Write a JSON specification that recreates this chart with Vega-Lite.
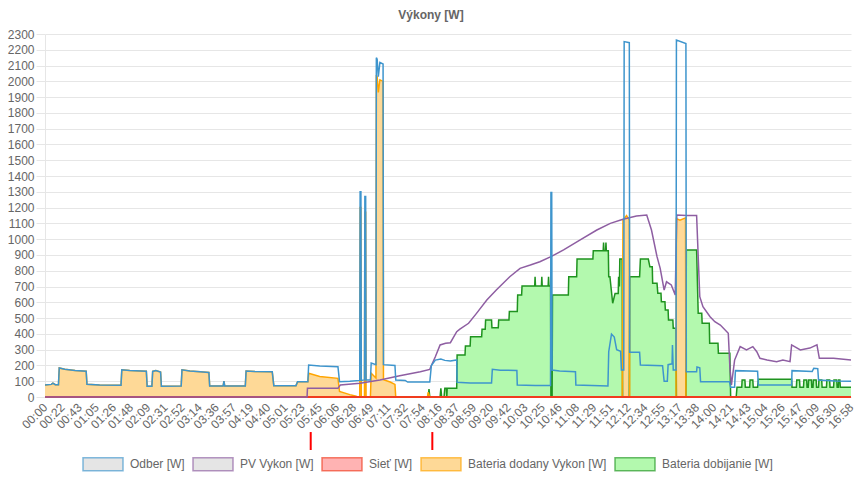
{
"$schema":"https://vega.github.io/schema/vega-lite/v6.json",
"width":806,"height":363,
"autosize":{"type":"none"},
"padding":{"left":45,"top":34,"right":11,"bottom":94},
"background":"white",
"title":{"text":"Výkony [W]","frame":"group","anchor":"middle","offset":13,"dx":-17,"dy":16,"baseline":"alphabetic","font":"Liberation Sans","fontSize":12,"fontWeight":"bold","color":"#666"},
"config":{"view":{"stroke":null},"font":"Liberation Sans"},
"datasets":{
"d":[
{"s":"Odber [W]","t":0,"v":76},{"s":"Odber [W]","t":8,"v":80},{"s":"Odber [W]","t":10,"v":88},{"s":"Odber [W]","t":13,"v":78},{"s":"Odber [W]","t":17,"v":78},{"s":"Odber [W]","t":18,"v":184},{"s":"Odber [W]","t":25,"v":176},{"s":"Odber [W]","t":38,"v":168},{"s":"Odber [W]","t":52,"v":163},{"s":"Odber [W]","t":53,"v":80},{"s":"Odber [W]","t":69,"v":76},{"s":"Odber [W]","t":96,"v":74},{"s":"Odber [W]","t":97,"v":172},{"s":"Odber [W]","t":107,"v":168},{"s":"Odber [W]","t":128,"v":163},{"s":"Odber [W]","t":129,"v":68},{"s":"Odber [W]","t":135,"v":68},{"s":"Odber [W]","t":136,"v":162},{"s":"Odber [W]","t":140,"v":168},{"s":"Odber [W]","t":146,"v":158},{"s":"Odber [W]","t":147,"v":68},{"s":"Odber [W]","t":172,"v":70},{"s":"Odber [W]","t":173,"v":172},{"s":"Odber [W]","t":183,"v":165},{"s":"Odber [W]","t":196,"v":160},{"s":"Odber [W]","t":207,"v":155},{"s":"Odber [W]","t":208,"v":70},{"s":"Odber [W]","t":225,"v":70},{"s":"Odber [W]","t":226,"v":100},{"s":"Odber [W]","t":227,"v":70},{"s":"Odber [W]","t":253,"v":70},{"s":"Odber [W]","t":254,"v":165},{"s":"Odber [W]","t":265,"v":162},{"s":"Odber [W]","t":287,"v":160},{"s":"Odber [W]","t":289,"v":72},{"s":"Odber [W]","t":317,"v":72},{"s":"Odber [W]","t":319,"v":97},{"s":"Odber [W]","t":332,"v":97},
{"s":"Odber [W]","t":333,"v":203},{"s":"Odber [W]","t":347,"v":196},{"s":"Odber [W]","t":370,"v":192},{"s":"Odber [W]","t":372,"v":97},{"s":"Odber [W]","t":385,"v":100},{"s":"Odber [W]","t":397.5,"v":105},{"s":"Odber [W]","t":398,"v":1300},{"s":"Odber [W]","t":399,"v":1300},{"s":"Odber [W]","t":399.5,"v":105},{"s":"Odber [W]","t":403.5,"v":108},{"s":"Odber [W]","t":404,"v":1270},{"s":"Odber [W]","t":405,"v":1270},{"s":"Odber [W]","t":405.5,"v":108},{"s":"Odber [W]","t":411,"v":108},{"s":"Odber [W]","t":412,"v":215},{"s":"Odber [W]","t":418,"v":205},{"s":"Odber [W]","t":418.5,"v":2150},{"s":"Odber [W]","t":419.5,"v":2140},{"s":"Odber [W]","t":421,"v":2030},{"s":"Odber [W]","t":423,"v":2120},{"s":"Odber [W]","t":427,"v":2110},{"s":"Odber [W]","t":427.5,"v":205},{"s":"Odber [W]","t":442,"v":200},{"s":"Odber [W]","t":443,"v":108},{"s":"Odber [W]","t":455,"v":105},{"s":"Odber [W]","t":458,"v":95},{"s":"Odber [W]","t":486,"v":95},{"s":"Odber [W]","t":488,"v":200},{"s":"Odber [W]","t":493,"v":234},{"s":"Odber [W]","t":500,"v":240},{"s":"Odber [W]","t":505,"v":232},{"s":"Odber [W]","t":512,"v":228},{"s":"Odber [W]","t":520,"v":235},{"s":"Odber [W]","t":520.5,"v":93},{"s":"Odber [W]","t":537,"v":88},{"s":"Odber [W]","t":564,"v":88},{"s":"Odber [W]","t":565,"v":176},{"s":"Odber [W]","t":575,"v":170},{"s":"Odber [W]","t":596,"v":168},{"s":"Odber [W]","t":596.5,"v":76},{"s":"Odber [W]","t":619,"v":73},{"s":"Odber [W]","t":638.5,"v":73},{"s":"Odber [W]","t":639,"v":1295},{"s":"Odber [W]","t":640,"v":1295},{"s":"Odber [W]","t":640.5,"v":171},{"s":"Odber [W]","t":650,"v":165},{"s":"Odber [W]","t":670,"v":160},{"s":"Odber [W]","t":670.5,"v":76},{"s":"Odber [W]","t":711,"v":70},{"s":"Odber [W]","t":712,"v":287},{"s":"Odber [W]","t":715.5,"v":399},{"s":"Odber [W]","t":719,"v":380},{"s":"Odber [W]","t":722,"v":300},{"s":"Odber [W]","t":727,"v":290},{"s":"Odber [W]","t":728,"v":171},{"s":"Odber [W]","t":731,"v":171},{"s":"Odber [W]","t":731.5,"v":2252},{"s":"Odber [W]","t":738,"v":2245},{"s":"Odber [W]","t":738.5,"v":283},{"s":"Odber [W]","t":751,"v":283},{"s":"Odber [W]","t":752,"v":203},{"s":"Odber [W]","t":780,"v":198},{"s":"Odber [W]","t":782,"v":100},{"s":"Odber [W]","t":786,"v":100},{"s":"Odber [W]","t":787,"v":205},{"s":"Odber [W]","t":792,"v":210},{"s":"Odber [W]","t":792.5,"v":330},{"s":"Odber [W]","t":793.5,"v":171},{"s":"Odber [W]","t":797,"v":171},{"s":"Odber [W]","t":797.5,"v":2262},{"s":"Odber [W]","t":809.5,"v":2240},{"s":"Odber [W]","t":810,"v":160},{"s":"Odber [W]","t":823,"v":160},{"s":"Odber [W]","t":823.5,"v":190},{"s":"Odber [W]","t":827,"v":185},{"s":"Odber [W]","t":828,"v":97},{"s":"Odber [W]","t":864.5,"v":97},{"s":"Odber [W]","t":866,"v":61},{"s":"Odber [W]","t":871,"v":61},{"s":"Odber [W]","t":872,"v":167},{"s":"Odber [W]","t":900,"v":163},{"s":"Odber [W]","t":901,"v":76},{"s":"Odber [W]","t":943,"v":76},{"s":"Odber [W]","t":943.5,"v":167},{"s":"Odber [W]","t":969,"v":162},{"s":"Odber [W]","t":971,"v":182},{"s":"Odber [W]","t":976,"v":180},{"s":"Odber [W]","t":977,"v":108},{"s":"Odber [W]","t":998,"v":102},{"s":"Odber [W]","t":1018,"v":100},

{"s":"PV Vykon [W]","t":0,"v":0},{"s":"PV Vykon [W]","t":331,"v":0},{"s":"PV Vykon [W]","t":331.5,"v":55},{"s":"PV Vykon [W]","t":370,"v":55},{"s":"PV Vykon [W]","t":373,"v":76},{"s":"PV Vykon [W]","t":398,"v":87},{"s":"PV Vykon [W]","t":423,"v":108},{"s":"PV Vykon [W]","t":448,"v":135},{"s":"PV Vykon [W]","t":474,"v":160},{"s":"PV Vykon [W]","t":486,"v":175},{"s":"PV Vykon [W]","t":488,"v":200},{"s":"PV Vykon [W]","t":493,"v":255},{"s":"PV Vykon [W]","t":499,"v":330},{"s":"PV Vykon [W]","t":506,"v":340},{"s":"PV Vykon [W]","t":512,"v":344},{"s":"PV Vykon [W]","t":520,"v":414},{"s":"PV Vykon [W]","t":524,"v":430},{"s":"PV Vykon [W]","t":535,"v":467},{"s":"PV Vykon [W]","t":545,"v":530},{"s":"PV Vykon [W]","t":558,"v":615},{"s":"PV Vykon [W]","t":570,"v":678},{"s":"PV Vykon [W]","t":587,"v":762},{"s":"PV Vykon [W]","t":600,"v":815},{"s":"PV Vykon [W]","t":613,"v":836},{"s":"PV Vykon [W]","t":625,"v":857},{"s":"PV Vykon [W]","t":639,"v":889},{"s":"PV Vykon [W]","t":655,"v":932},{"s":"PV Vykon [W]","t":676,"v":995},{"s":"PV Vykon [W]","t":697,"v":1058},{"s":"PV Vykon [W]","t":714,"v":1100},{"s":"PV Vykon [W]","t":730,"v":1126},{"s":"PV Vykon [W]","t":747,"v":1147},{"s":"PV Vykon [W]","t":760,"v":1153},{"s":"PV Vykon [W]","t":766,"v":1058},{"s":"PV Vykon [W]","t":773,"v":889},{"s":"PV Vykon [W]","t":777,"v":815},{"s":"PV Vykon [W]","t":782,"v":678},{"s":"PV Vykon [W]","t":785,"v":730},{"s":"PV Vykon [W]","t":791,"v":710},{"s":"PV Vykon [W]","t":796,"v":646},{"s":"PV Vykon [W]","t":798,"v":1153},{"s":"PV Vykon [W]","t":810,"v":1150},{"s":"PV Vykon [W]","t":823,"v":1150},{"s":"PV Vykon [W]","t":827,"v":636},{"s":"PV Vykon [W]","t":831,"v":572},{"s":"PV Vykon [W]","t":840,"v":509},{"s":"PV Vykon [W]","t":846,"v":477},{"s":"PV Vykon [W]","t":853,"v":456},{"s":"PV Vykon [W]","t":863,"v":404},{"s":"PV Vykon [W]","t":865,"v":192},{"s":"PV Vykon [W]","t":867,"v":76},{"s":"PV Vykon [W]","t":871,"v":234},{"s":"PV Vykon [W]","t":878,"v":319},{"s":"PV Vykon [W]","t":886,"v":298},{"s":"PV Vykon [W]","t":894,"v":319},{"s":"PV Vykon [W]","t":899,"v":287},{"s":"PV Vykon [W]","t":903,"v":245},{"s":"PV Vykon [W]","t":912,"v":234},{"s":"PV Vykon [W]","t":924,"v":224},{"s":"PV Vykon [W]","t":932,"v":234},{"s":"PV Vykon [W]","t":941,"v":224},{"s":"PV Vykon [W]","t":943,"v":330},{"s":"PV Vykon [W]","t":954,"v":298},{"s":"PV Vykon [W]","t":966,"v":310},{"s":"PV Vykon [W]","t":975,"v":330},{"s":"PV Vykon [W]","t":978,"v":245},{"s":"PV Vykon [W]","t":996,"v":245},{"s":"PV Vykon [W]","t":1018,"v":234},

{"s":"Sieť [W]","t":0,"v":0},{"s":"Sieť [W]","t":1018,"v":0},

{"s":"Bateria dodany Vykon [W]","t":0,"v":76},{"s":"Bateria dodany Vykon [W]","t":8,"v":80},{"s":"Bateria dodany Vykon [W]","t":10,"v":88},{"s":"Bateria dodany Vykon [W]","t":13,"v":78},{"s":"Bateria dodany Vykon [W]","t":17,"v":78},{"s":"Bateria dodany Vykon [W]","t":18,"v":184},{"s":"Bateria dodany Vykon [W]","t":25,"v":176},{"s":"Bateria dodany Vykon [W]","t":38,"v":168},{"s":"Bateria dodany Vykon [W]","t":52,"v":163},{"s":"Bateria dodany Vykon [W]","t":53,"v":80},{"s":"Bateria dodany Vykon [W]","t":69,"v":76},{"s":"Bateria dodany Vykon [W]","t":96,"v":74},{"s":"Bateria dodany Vykon [W]","t":97,"v":172},{"s":"Bateria dodany Vykon [W]","t":107,"v":168},{"s":"Bateria dodany Vykon [W]","t":128,"v":163},{"s":"Bateria dodany Vykon [W]","t":129,"v":68},{"s":"Bateria dodany Vykon [W]","t":135,"v":68},{"s":"Bateria dodany Vykon [W]","t":136,"v":162},{"s":"Bateria dodany Vykon [W]","t":140,"v":168},{"s":"Bateria dodany Vykon [W]","t":146,"v":158},{"s":"Bateria dodany Vykon [W]","t":147,"v":68},{"s":"Bateria dodany Vykon [W]","t":172,"v":70},{"s":"Bateria dodany Vykon [W]","t":173,"v":172},{"s":"Bateria dodany Vykon [W]","t":183,"v":165},{"s":"Bateria dodany Vykon [W]","t":196,"v":160},{"s":"Bateria dodany Vykon [W]","t":207,"v":155},{"s":"Bateria dodany Vykon [W]","t":208,"v":70},{"s":"Bateria dodany Vykon [W]","t":225,"v":70},{"s":"Bateria dodany Vykon [W]","t":226,"v":100},{"s":"Bateria dodany Vykon [W]","t":227,"v":70},{"s":"Bateria dodany Vykon [W]","t":253,"v":70},{"s":"Bateria dodany Vykon [W]","t":254,"v":165},{"s":"Bateria dodany Vykon [W]","t":265,"v":162},{"s":"Bateria dodany Vykon [W]","t":287,"v":160},{"s":"Bateria dodany Vykon [W]","t":289,"v":72},{"s":"Bateria dodany Vykon [W]","t":317,"v":72},{"s":"Bateria dodany Vykon [W]","t":319,"v":97},{"s":"Bateria dodany Vykon [W]","t":332,"v":97},
{"s":"Bateria dodany Vykon [W]","t":333,"v":150},{"s":"Bateria dodany Vykon [W]","t":347,"v":130},{"s":"Bateria dodany Vykon [W]","t":370,"v":118},{"s":"Bateria dodany Vykon [W]","t":372,"v":35},{"s":"Bateria dodany Vykon [W]","t":385,"v":15},{"s":"Bateria dodany Vykon [W]","t":393,"v":5},{"s":"Bateria dodany Vykon [W]","t":394,"v":0},{"s":"Bateria dodany Vykon [W]","t":397.5,"v":0},{"s":"Bateria dodany Vykon [W]","t":398,"v":1200},{"s":"Bateria dodany Vykon [W]","t":399,"v":1200},{"s":"Bateria dodany Vykon [W]","t":399.5,"v":0},{"s":"Bateria dodany Vykon [W]","t":403.5,"v":0},{"s":"Bateria dodany Vykon [W]","t":404,"v":1170},{"s":"Bateria dodany Vykon [W]","t":405,"v":1170},{"s":"Bateria dodany Vykon [W]","t":405.5,"v":0},{"s":"Bateria dodany Vykon [W]","t":411,"v":0},{"s":"Bateria dodany Vykon [W]","t":412,"v":150},{"s":"Bateria dodany Vykon [W]","t":418,"v":120},{"s":"Bateria dodany Vykon [W]","t":418.5,"v":2040},{"s":"Bateria dodany Vykon [W]","t":419.5,"v":2030},{"s":"Bateria dodany Vykon [W]","t":421,"v":1930},{"s":"Bateria dodany Vykon [W]","t":423,"v":2010},{"s":"Bateria dodany Vykon [W]","t":427,"v":2000},{"s":"Bateria dodany Vykon [W]","t":427.5,"v":110},{"s":"Bateria dodany Vykon [W]","t":436,"v":95},{"s":"Bateria dodany Vykon [W]","t":442,"v":80},{"s":"Bateria dodany Vykon [W]","t":443,"v":0},{"s":"Bateria dodany Vykon [W]","t":483,"v":0},{"s":"Bateria dodany Vykon [W]","t":484,"v":30},{"s":"Bateria dodany Vykon [W]","t":486,"v":0},{"s":"Bateria dodany Vykon [W]","t":729,"v":0},{"s":"Bateria dodany Vykon [W]","t":730,"v":1120},{"s":"Bateria dodany Vykon [W]","t":734.5,"v":1150},{"s":"Bateria dodany Vykon [W]","t":738,"v":1120},{"s":"Bateria dodany Vykon [W]","t":738.5,"v":0},{"s":"Bateria dodany Vykon [W]","t":797,"v":0},{"s":"Bateria dodany Vykon [W]","t":797.5,"v":1130},{"s":"Bateria dodany Vykon [W]","t":802,"v":1120},{"s":"Bateria dodany Vykon [W]","t":809,"v":1135},{"s":"Bateria dodany Vykon [W]","t":809.5,"v":0},{"s":"Bateria dodany Vykon [W]","t":1018,"v":0},

{"s":"Bateria dobijanie [W]","t":0,"v":0},{"s":"Bateria dobijanie [W]","t":484,"v":0},{"s":"Bateria dobijanie [W]","t":485,"v":50},{"s":"Bateria dobijanie [W]","t":486,"v":0},{"s":"Bateria dobijanie [W]","t":499,"v":0},{"s":"Bateria dobijanie [W]","t":500,"v":55},{"s":"Bateria dobijanie [W]","t":501,"v":0},{"s":"Bateria dobijanie [W]","t":504,"v":0},{"s":"Bateria dobijanie [W]","t":505,"v":55},{"s":"Bateria dobijanie [W]","t":507,"v":55},{"s":"Bateria dobijanie [W]","t":507.5,"v":0},{"s":"Bateria dobijanie [W]","t":508,"v":55},{"s":"Bateria dobijanie [W]","t":520,"v":55},{"s":"Bateria dobijanie [W]","t":520.5,"v":266},{"s":"Bateria dobijanie [W]","t":530.5,"v":266},{"s":"Bateria dobijanie [W]","t":531,"v":323},{"s":"Bateria dobijanie [W]","t":537,"v":323},{"s":"Bateria dobijanie [W]","t":537.5,"v":382},{"s":"Bateria dobijanie [W]","t":551.5,"v":382},{"s":"Bateria dobijanie [W]","t":552,"v":429},{"s":"Bateria dobijanie [W]","t":556,"v":429},{"s":"Bateria dobijanie [W]","t":556.5,"v":488},{"s":"Bateria dobijanie [W]","t":564,"v":488},{"s":"Bateria dobijanie [W]","t":564.5,"v":439},{"s":"Bateria dobijanie [W]","t":572.5,"v":439},{"s":"Bateria dobijanie [W]","t":573,"v":488},{"s":"Bateria dobijanie [W]","t":586,"v":488},{"s":"Bateria dobijanie [W]","t":586.5,"v":541},{"s":"Bateria dobijanie [W]","t":596.5,"v":541},{"s":"Bateria dobijanie [W]","t":597,"v":646},{"s":"Bateria dobijanie [W]","t":602,"v":646},{"s":"Bateria dobijanie [W]","t":602.5,"v":703},{"s":"Bateria dobijanie [W]","t":618.5,"v":703},{"s":"Bateria dobijanie [W]","t":619,"v":762},{"s":"Bateria dobijanie [W]","t":619.5,"v":703},{"s":"Bateria dobijanie [W]","t":627,"v":703},{"s":"Bateria dobijanie [W]","t":627.5,"v":762},{"s":"Bateria dobijanie [W]","t":628,"v":703},{"s":"Bateria dobijanie [W]","t":635.5,"v":703},{"s":"Bateria dobijanie [W]","t":636,"v":762},{"s":"Bateria dobijanie [W]","t":636.5,"v":703},{"s":"Bateria dobijanie [W]","t":638.5,"v":703},{"s":"Bateria dobijanie [W]","t":639,"v":0},{"s":"Bateria dobijanie [W]","t":640.5,"v":0},{"s":"Bateria dobijanie [W]","t":641,"v":646},{"s":"Bateria dobijanie [W]","t":661,"v":646},{"s":"Bateria dobijanie [W]","t":661.5,"v":762},{"s":"Bateria dobijanie [W]","t":671.5,"v":762},{"s":"Bateria dobijanie [W]","t":672,"v":874},{"s":"Bateria dobijanie [W]","t":692,"v":874},{"s":"Bateria dobijanie [W]","t":692.5,"v":927},{"s":"Bateria dobijanie [W]","t":705,"v":927},{"s":"Bateria dobijanie [W]","t":705.5,"v":978},{"s":"Bateria dobijanie [W]","t":706,"v":927},{"s":"Bateria dobijanie [W]","t":708,"v":927},{"s":"Bateria dobijanie [W]","t":708.5,"v":978},{"s":"Bateria dobijanie [W]","t":709,"v":927},{"s":"Bateria dobijanie [W]","t":711.5,"v":927},{"s":"Bateria dobijanie [W]","t":712,"v":762},{"s":"Bateria dobijanie [W]","t":713.5,"v":762},{"s":"Bateria dobijanie [W]","t":717,"v":594},{"s":"Bateria dobijanie [W]","t":720,"v":656},{"s":"Bateria dobijanie [W]","t":724,"v":656},{"s":"Bateria dobijanie [W]","t":724.5,"v":762},{"s":"Bateria dobijanie [W]","t":725.5,"v":700},{"s":"Bateria dobijanie [W]","t":726,"v":874},{"s":"Bateria dobijanie [W]","t":729,"v":874},{"s":"Bateria dobijanie [W]","t":729.5,"v":0},{"s":"Bateria dobijanie [W]","t":738,"v":0},{"s":"Bateria dobijanie [W]","t":738.5,"v":762},{"s":"Bateria dobijanie [W]","t":751,"v":762},{"s":"Bateria dobijanie [W]","t":752,"v":874},{"s":"Bateria dobijanie [W]","t":762,"v":874},{"s":"Bateria dobijanie [W]","t":764,"v":825},{"s":"Bateria dobijanie [W]","t":767,"v":825},{"s":"Bateria dobijanie [W]","t":767.5,"v":720},{"s":"Bateria dobijanie [W]","t":773,"v":720},{"s":"Bateria dobijanie [W]","t":774,"v":657},{"s":"Bateria dobijanie [W]","t":778,"v":657},{"s":"Bateria dobijanie [W]","t":778.5,"v":604},{"s":"Bateria dobijanie [W]","t":783,"v":604},{"s":"Bateria dobijanie [W]","t":783.5,"v":551},{"s":"Bateria dobijanie [W]","t":787,"v":551},{"s":"Bateria dobijanie [W]","t":787.5,"v":488},{"s":"Bateria dobijanie [W]","t":793,"v":488},{"s":"Bateria dobijanie [W]","t":793.5,"v":435},{"s":"Bateria dobijanie [W]","t":797,"v":435},{"s":"Bateria dobijanie [W]","t":797.5,"v":0},{"s":"Bateria dobijanie [W]","t":809.5,"v":0},{"s":"Bateria dobijanie [W]","t":810,"v":932},{"s":"Bateria dobijanie [W]","t":823,"v":932},{"s":"Bateria dobijanie [W]","t":825,"v":530},{"s":"Bateria dobijanie [W]","t":829.5,"v":530},{"s":"Bateria dobijanie [W]","t":830,"v":467},{"s":"Bateria dobijanie [W]","t":839,"v":467},{"s":"Bateria dobijanie [W]","t":839.5,"v":340},{"s":"Bateria dobijanie [W]","t":850,"v":340},{"s":"Bateria dobijanie [W]","t":850.5,"v":277},{"s":"Bateria dobijanie [W]","t":865,"v":277},{"s":"Bateria dobijanie [W]","t":866,"v":0},{"s":"Bateria dobijanie [W]","t":873,"v":0},{"s":"Bateria dobijanie [W]","t":874,"v":61},{"s":"Bateria dobijanie [W]","t":880,"v":61},{"s":"Bateria dobijanie [W]","t":880.5,"v":108},{"s":"Bateria dobijanie [W]","t":884,"v":108},{"s":"Bateria dobijanie [W]","t":884.5,"v":61},{"s":"Bateria dobijanie [W]","t":890,"v":61},{"s":"Bateria dobijanie [W]","t":890.5,"v":108},{"s":"Bateria dobijanie [W]","t":894,"v":108},{"s":"Bateria dobijanie [W]","t":894.5,"v":61},{"s":"Bateria dobijanie [W]","t":900,"v":61},{"s":"Bateria dobijanie [W]","t":901,"v":112},{"s":"Bateria dobijanie [W]","t":943,"v":112},{"s":"Bateria dobijanie [W]","t":943.5,"v":61},{"s":"Bateria dobijanie [W]","t":949,"v":61},{"s":"Bateria dobijanie [W]","t":949.5,"v":108},{"s":"Bateria dobijanie [W]","t":953,"v":108},{"s":"Bateria dobijanie [W]","t":953.5,"v":61},{"s":"Bateria dobijanie [W]","t":958,"v":61},{"s":"Bateria dobijanie [W]","t":958.5,"v":108},{"s":"Bateria dobijanie [W]","t":962,"v":108},{"s":"Bateria dobijanie [W]","t":962.5,"v":61},{"s":"Bateria dobijanie [W]","t":964,"v":61},{"s":"Bateria dobijanie [W]","t":964.5,"v":108},{"s":"Bateria dobijanie [W]","t":968,"v":108},{"s":"Bateria dobijanie [W]","t":968.5,"v":61},{"s":"Bateria dobijanie [W]","t":970,"v":61},{"s":"Bateria dobijanie [W]","t":970.5,"v":108},{"s":"Bateria dobijanie [W]","t":974,"v":108},{"s":"Bateria dobijanie [W]","t":974.5,"v":61},{"s":"Bateria dobijanie [W]","t":977,"v":61},{"s":"Bateria dobijanie [W]","t":977.5,"v":108},{"s":"Bateria dobijanie [W]","t":981,"v":108},{"s":"Bateria dobijanie [W]","t":981.5,"v":61},{"s":"Bateria dobijanie [W]","t":987,"v":61},{"s":"Bateria dobijanie [W]","t":987.5,"v":108},{"s":"Bateria dobijanie [W]","t":991,"v":108},{"s":"Bateria dobijanie [W]","t":991.5,"v":61},{"s":"Bateria dobijanie [W]","t":996,"v":61},{"s":"Bateria dobijanie [W]","t":996.5,"v":108},{"s":"Bateria dobijanie [W]","t":1000,"v":108},{"s":"Bateria dobijanie [W]","t":1000.5,"v":61},{"s":"Bateria dobijanie [W]","t":1002,"v":61},{"s":"Bateria dobijanie [W]","t":1002.5,"v":108},{"s":"Bateria dobijanie [W]","t":1004,"v":108},{"s":"Bateria dobijanie [W]","t":1004.5,"v":61},{"s":"Bateria dobijanie [W]","t":1018,"v":61}
],
"marks":[{"t":335.6,"v":-222,"v2":-336},{"t":489.2,"v":-222,"v2":-336}]
},
"data":{"name":"d"},
"encoding":{
"x":{"field":"t","type":"quantitative","scale":{"domain":[0,1018],"nice":false,"zero":false},
"axis":{"title":null,"grid":false,"ticks":false,"domain":false,"labelAngle":-45,"labelAlign":"right","labelBaseline":"middle","labelPadding":8,"labelFontSize":12,"labelColor":"#666","labelFont":"Liberation Sans","labelOverlap":false,"labelFlush":false,"labelBound":false,
"values":[0,21.66,43.32,64.98,86.64,108.3,129.96,151.61,173.27,194.94,216.6,238.26,259.91,281.57,303.23,324.89,346.55,368.21,389.87,411.53,433.19,454.85,476.51,498.17,519.83,541.49,563.15,584.81,606.47,628.13,649.79,671.45,693.11,714.77,736.43,758.09,779.74,801.4,823.06,844.72,866.38,888.04,909.7,931.36,953.02,974.68,996.34,1018],
"labelExpr":"['00:00','00:22','00:43','01:05','01:26','01:48','02:09','02:31','02:52','03:14','03:36','03:57','04:19','04:40','05:01','05:23','05:45','06:06','06:28','06:49','07:11','07:32','07:54','08:16','08:37','08:59','09:20','09:42','10:03','10:25','10:46','11:08','11:29','11:51','12:12','12:34','12:55','13:17','13:38','14:00','14:21','14:43','15:04','15:26','15:47','16:09','16:30','16:58'][round(datum.value/21.6596)]"}},
"y":{"field":"v","type":"quantitative","scale":{"domain":[0,2300],"nice":false},
"axis":{"title":null,"format":"d","values":[0,100,200,300,400,500,600,700,800,900,1000,1100,1200,1300,1400,1500,1600,1700,1800,1900,2000,2100,2200,2300],"grid":true,"gridColor":"#e6e6e6","tickColor":"#e6e6e6","tickSize":9,"domainColor":"#e6e6e6","labelPadding":2,"labelFontSize":12,"labelColor":"#666","labelFont":"Liberation Sans","labelOverlap":false,"labelFlush":false}}
},
"layer":[
{"transform":[{"filter":"datum.s == 'Bateria dobijanie [W]'"}],"mark":{"type":"area","interpolate":"linear"},
 "encoding":{"fill":{"field":"s","type":"nominal","scale":{"domain":["Bateria dobijanie [W]","Bateria dodany Vykon [W]","Sieť [W]","PV Vykon [W]","Odber [W]"],"range":["#b3f9ae","#fed997","#ffb3b3","#e5e5e5","#e5e5e5"]},"legend":null}}},
{"transform":[{"filter":"datum.s == 'Bateria dodany Vykon [W]'"}],"mark":{"type":"area","interpolate":"linear"},
 "encoding":{"fill":{"field":"s","type":"nominal","scale":{"domain":["Bateria dobijanie [W]","Bateria dodany Vykon [W]","Sieť [W]","PV Vykon [W]","Odber [W]"],"range":["#b3f9ae","#fed997","#ffb3b3","#e5e5e5","#e5e5e5"]},"legend":null}}},
{"layer":[
 {"transform":[{"filter":"datum.s == 'Bateria dobijanie [W]'"}],"mark":{"type":"line","strokeWidth":1.5}},
 {"transform":[{"filter":"datum.s == 'Bateria dodany Vykon [W]'"}],"mark":{"type":"line","strokeWidth":1.5}},
 {"transform":[{"filter":"datum.s == 'Sieť [W]'"}],"mark":{"type":"line","strokeWidth":2}},
 {"transform":[{"filter":"datum.s == 'PV Vykon [W]'"}],"mark":{"type":"line","strokeWidth":1.5}},
 {"transform":[{"filter":"datum.s == 'Odber [W]'"}],"mark":{"type":"line","strokeWidth":1.5}}
 ],
 "encoding":{"stroke":{"field":"s","type":"nominal","scale":{"domain":["Odber [W]","PV Vykon [W]","Sieť [W]","Bateria dodany Vykon [W]","Bateria dobijanie [W]"],"range":["#3e95cd","#8e5ea2","#f03c1e","#ffa500","#1f931f"]},
 "legend":{"orient":"none","legendX":37,"legendY":409,"direction":"horizontal","title":null,"symbolType":"M-1,-0.325H1V0.325H-1Z","symbolSize":1600,"symbolStrokeWidth":1.5,"labelFontSize":12,"labelColor":"#666","labelFont":"Liberation Sans","labelOffset":6,"columnPadding":5,"padding":0,
  "encode":{"symbols":{"update":{"fill":{"signal":"datum.value == 'Bateria dobijanie [W]' ? '#b3f9ae' : datum.value == 'Bateria dodany Vykon [W]' ? '#fed997' : datum.value == 'Sieť [W]' ? '#ffb3b3' : '#e5e5e5'"},"stroke":{"scale":"stroke","field":"value"},"strokeOpacity":{"value":0.65},"fillOpacity":{"value":1},"opacity":{"value":1}}}}}}}
},
{"data":{"name":"marks"},"mark":{"type":"rule","color":"#ff0000","strokeWidth":2},"encoding":{"y2":{"field":"v2"}}}
]
}
